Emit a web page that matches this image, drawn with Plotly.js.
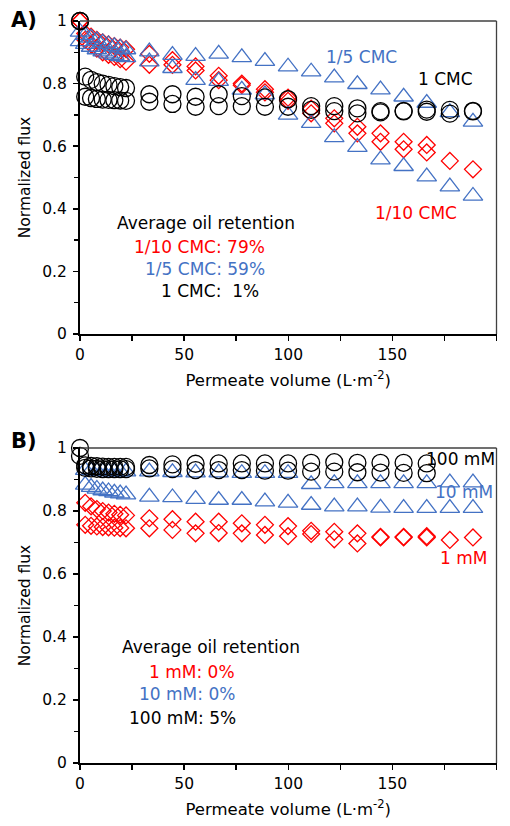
<!DOCTYPE html>
<html>
<head>
<meta charset="utf-8">
<script src="https://cdn.plot.ly/plotly-3.0.1.min.js"></script>
<style>html,body{margin:0;padding:0;background:#fff;}#chart{width:510px;height:826px;}</style>
</head>
<body>
<div id="chart"></div>
<script>
// Permeate volume (L·m-2) sampling points shared by all runs
const volume = [0, 2.5, 5.3, 8.1, 10.9, 13.7, 16.5, 19.3, 22.1, 33.3, 44.4, 55.5, 66.6, 77.7, 88.8, 99.9, 111, 122.1, 133.2, 144.3, 155.4, 166.5, 177.6, 188.7];

// Panel A: surfactant concentration relative to CMC (two runs each)
const cmc110_run1 = [1.0, 0.96, 0.95, 0.94, 0.932, 0.925, 0.92, 0.915, 0.91, 0.895, 0.875, 0.855, 0.825, 0.80, 0.782, 0.755, 0.72, 0.689, 0.662, 0.641, 0.614, 0.604, 0.553, 0.526];
const cmc110_run2 = [1.0, 0.94, 0.925, 0.912, 0.9, 0.892, 0.885, 0.878, 0.87, 0.86, 0.86, 0.842, 0.811, 0.795, 0.772, 0.745, 0.705, 0.673, 0.641, 0.614, 0.59, 0.58, null, null];
const cmc15_run1 = [0.965, 0.955, 0.946, 0.938, 0.931, 0.925, 0.919, 0.914, 0.909, 0.902, 0.891, 0.888, 0.895, 0.884, 0.872, 0.854, 0.838, 0.819, 0.798, 0.781, 0.758, 0.738, 0.708, 0.678];
const cmc15_run2 = [0.935, 0.926, 0.917, 0.909, 0.902, 0.896, 0.891, 0.887, 0.884, 0.87, 0.849, 0.811, 0.808, 0.78, 0.765, 0.70, 0.674, 0.628, 0.597, 0.557, 0.536, 0.503, 0.471, 0.441];
const cmc1_run1 = [1.0, 0.822, 0.812, 0.805, 0.8, 0.796, 0.792, 0.789, 0.786, 0.766, 0.766, 0.758, 0.766, 0.760, 0.756, 0.75, 0.728, 0.728, 0.721, 0.712, 0.713, 0.717, 0.716, 0.713];
const cmc1_run2 = [1.0, 0.758, 0.754, 0.751, 0.749, 0.748, 0.747, 0.746, 0.745, 0.742, 0.735, 0.726, 0.728, 0.728, 0.726, 0.726, 0.716, 0.712, 0.705, 0.708, 0.711, 0.71, 0.704, 0.711];

// Panel B: salt concentration (two runs each)
const mm1_run1 = [null, 0.826, 0.815, 0.806, 0.8, 0.795, 0.791, 0.788, 0.786, 0.777, 0.774, 0.766, 0.766, 0.761, 0.756, 0.752, 0.737, 0.734, 0.729, 0.718, 0.718, 0.72, 0.708, 0.716];
const mm1_run2 = [null, 0.756, 0.753, 0.751, 0.749, 0.748, 0.747, 0.746, 0.745, 0.745, 0.74, 0.729, 0.73, 0.729, 0.724, 0.72, 0.727, 0.71, 0.697, 0.716, 0.716, 0.716, null, null];
const mm10_run1 = [null, 0.93, 0.928, 0.927, 0.926, 0.925, 0.925, 0.925, 0.925, 0.925, 0.923, 0.922, 0.922, 0.92, 0.92, 0.92, 0.885, 0.888, 0.888, 0.888, 0.888, 0.888, 0.89, 0.89];
const mm10_run2 = [null, 0.883, 0.876, 0.87, 0.865, 0.862, 0.858, 0.855, 0.852, 0.845, 0.843, 0.838, 0.835, 0.835, 0.83, 0.826, 0.819, 0.814, 0.814, 0.81, 0.809, 0.809, 0.809, 0.809];
const mm100_run1 = [1.0, 0.945, 0.943, 0.942, 0.941, 0.94, 0.94, 0.94, 0.94, 0.946, 0.948, 0.95, 0.951, 0.951, 0.951, 0.951, 0.953, 0.955, 0.953, 0.953, 0.953, 0.951, null, null];
const mm100_run2 = [0.975, 0.937, 0.935, 0.934, 0.933, 0.933, 0.933, 0.933, 0.933, 0.935, 0.933, 0.93, 0.93, 0.93, 0.928, 0.928, 0.925, 0.925, 0.923, 0.922, 0.921, 0.92, null, null];

// Text
const seriesLabelsA = ['1/10 CMC', '1/5 CMC', '1 CMC'];
const retentionA = ['1/10 CMC: 79%', '1/5 CMC: 59%', '1 CMC:\u00a0 1%'];
const seriesLabelsB = ['1 mM', '10 mM', '100 mM'];
const retentionB = ['1 mM: 0%', '10 mM: 0%', '100 mM: 5%'];

const RED = '#FF0000', BLUE = '#4472C4', BLACK = '#000000';
const FONT = 'DejaVu Sans, sans-serif';

function tr(y, name, symbol, color, size, xa, ya) {
  return {
    x: volume, y: y, name: name, type: 'scatter', mode: 'markers',
    xaxis: xa, yaxis: ya, cliponaxis: false, showlegend: false,
    marker: {symbol: symbol, size: size, color: color, line: {color: color, width: 1.3}}
  };
}

const data = [
  tr(cmc110_run1, '1/10 CMC run 1', 'diamond-open', RED, 13, 'x', 'y'),
  tr(cmc110_run2, '1/10 CMC run 2', 'diamond-open', RED, 13, 'x', 'y'),
  tr(cmc15_run1, '1/5 CMC run 1', 'triangle-up-open', BLUE, 17, 'x', 'y'),
  tr(cmc15_run2, '1/5 CMC run 2', 'triangle-up-open', BLUE, 17, 'x', 'y'),
  tr(cmc1_run1, '1 CMC run 1', 'circle-open', BLACK, 17, 'x', 'y'),
  tr(cmc1_run2, '1 CMC run 2', 'circle-open', BLACK, 17, 'x', 'y'),
  tr(mm1_run1, '1 mM run 1', 'diamond-open', RED, 13, 'x2', 'y2'),
  tr(mm1_run2, '1 mM run 2', 'diamond-open', RED, 13, 'x2', 'y2'),
  tr(mm10_run1, '10 mM run 1', 'triangle-up-open', BLUE, 17, 'x2', 'y2'),
  tr(mm10_run2, '10 mM run 2', 'triangle-up-open', BLUE, 17, 'x2', 'y2'),
  tr(mm100_run1, '100 mM run 1', 'circle-open', BLACK, 17, 'x2', 'y2'),
  tr(mm100_run2, '100 mM run 2', 'circle-open', BLACK, 17, 'x2', 'y2')
];

function xax(anchor) {
  return {
    domain: [80/510, 496.5/510], anchor: anchor, range: [0, 200], dtick: 50, tick0: 0,
    showgrid: false, zeroline: false, showline: true, linecolor: BLACK, linewidth: 2,
    ticks: 'outside', ticklen: 5, tickwidth: 1.5, tickcolor: BLACK,
    minor: {dtick: 25, tick0: 0, ticks: 'outside', ticklen: 5, tickwidth: 1.5, tickcolor: BLACK, showgrid: false},
    tickfont: {family: FONT, size: 15.5, color: BLACK},
    title: {text: 'Permeate volume (L·m<sup>-2</sup>)', font: {family: FONT, size: 16.5, color: BLACK}, standoff: 12},
    automargin: false, fixedrange: true
  };
}
function yax(anchor, dom) {
  return {
    domain: dom, anchor: anchor, range: [0, 1], dtick: 0.2, tick0: 0,
    showgrid: false, zeroline: false, showline: true, linecolor: BLACK, linewidth: 2,
    ticks: 'outside', ticklen: 5, tickwidth: 1.5, tickcolor: BLACK,
    minor: {dtick: 0.1, tick0: 0, ticks: 'outside', ticklen: 4, tickwidth: 1.5, tickcolor: BLACK, showgrid: false},
    tickfont: {family: FONT, size: 15.5, color: BLACK}, ticklabelstandoff: 3,
    title: {text: 'Normalized flux', font: {family: FONT, size: 15.5, color: BLACK}, standoff: 8},
    automargin: false, fixedrange: true
  };
}

function ann(text, x, y, color, xr, yr, xanchor) {
  return {text: text, x: x, y: y, xref: xr, yref: yr, showarrow: false,
          xanchor: xanchor || 'center', yanchor: 'middle',
          font: {family: FONT, size: 17, color: color}};
}

const annotations = [
  ann(seriesLabelsA[1], 135.4, 0.885, BLUE, 'x', 'y'),
  ann(seriesLabelsA[2], 175.5, 0.816, BLACK, 'x', 'y'),
  ann(seriesLabelsA[0], 161.3, 0.388, RED, 'x', 'y'),
  ann('Average oil retention', 60.7, 0.356, BLACK, 'x', 'y'),
  ann(retentionA[0], 89.8, 0.278, RED, 'x', 'y', 'right'),
  ann(retentionA[1], 89.8, 0.208, BLUE, 'x', 'y', 'right'),
  ann(retentionA[2], 87.0, 0.137, BLACK, 'x', 'y', 'right'),
  ann(seriesLabelsB[2], 182.7, 0.965, BLACK, 'x2', 'y2'),
  ann(seriesLabelsB[1], 184.2, 0.859, BLUE, 'x2', 'y2'),
  ann(seriesLabelsB[0], 184.2, 0.651, RED, 'x2', 'y2'),
  ann('Average oil retention', 62.9, 0.367, BLACK, 'x2', 'y2'),
  ann(retentionB[0], 75.3, 0.29, RED, 'x2', 'y2', 'right'),
  ann(retentionB[1], 75.3, 0.219, BLUE, 'x2', 'y2', 'right'),
  ann(retentionB[2], 75.8, 0.143, BLACK, 'x2', 'y2', 'right'),
  {text: '<b>A)</b>', x: 24/510, y: 1 - 20/826, xref: 'paper', yref: 'paper', showarrow: false,
   xanchor: 'center', yanchor: 'middle', font: {family: FONT, size: 21, color: BLACK}},
  {text: '<b>B)</b>', x: 24/510, y: 1 - 441/826, xref: 'paper', yref: 'paper', showarrow: false,
   xanchor: 'center', yanchor: 'middle', font: {family: FONT, size: 21, color: BLACK}}
];

function border(xr, yr) {
  return [
    {type: 'line', xref: xr + ' domain', yref: yr + ' domain', x0: 0, x1: 1, y0: 1, y1: 1, line: {color: '#404040', width: 1.3}},
    {type: 'line', xref: xr + ' domain', yref: yr + ' domain', x0: 1, x1: 1, y0: 0, y1: 1, line: {color: '#404040', width: 1.3}}
  ];
}

const layout = {
  width: 510, height: 826,
  margin: {l: 0, r: 0, t: 0, b: 0, pad: 0},
  paper_bgcolor: '#ffffff', plot_bgcolor: '#ffffff',
  showlegend: false,
  font: {family: FONT, color: BLACK},
  xaxis: xax('y'),
  yaxis: yax('x', [1 - 334/826, 1 - 21/826]),
  xaxis2: xax('y2'),
  yaxis2: yax('x2', [1 - 763/826, 1 - 448/826]),
  annotations: annotations,
  shapes: border('x', 'y').concat(border('x2', 'y2'))
};

Plotly.newPlot('chart', data, layout, {displayModeBar: false, staticPlot: true});
</script>
</body>
</html>
